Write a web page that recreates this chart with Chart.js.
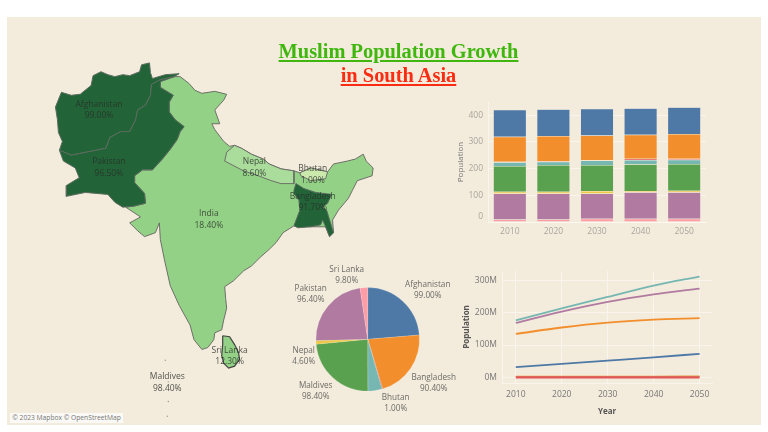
<!DOCTYPE html>
<html>
<head>
<meta charset="utf-8">
<script src="https://cdn.jsdelivr.net/npm/chart.js@4"></script>
<style>
  html, body { margin: 0; padding: 0; background: #fff; width: 768px; height: 432px; overflow: hidden; }
  #panel { position: absolute; left: 7px; top: 17px; width: 754px; height: 408px; background: #f3ebdb; }
  canvas { position: absolute; filter: blur(0.3px); }
  .title { position: absolute; left: 0; width: 797px; text-align: center; font: bold 20.4px "Liberation Serif", serif; text-decoration: underline; }
  #credit { position: absolute; left: 10px; top: 413px; width: 113px; height: 10px; background: #fbf9f5; color: #777; font: 6.7px "Open Sans", sans-serif; line-height: 10px; text-align: center; white-space: nowrap; }
</style>
</head>
<body>
<div id="panel"></div>
<canvas id="mapChart" style="left:0;top:0"></canvas>
<canvas id="barChart" style="left:450px;top:85px"></canvas>
<canvas id="pieChart" style="left:280px;top:260px"></canvas>
<canvas id="lineChart" style="left:450px;top:255px"></canvas>
<div class="title" style="top:40px;color:#3fb70f">Muslim Population Growth</div>
<div class="title" style="top:64px;color:#fb2c12">in South Asia</div>
<div id="credit">© 2023 Mapbox © OpenStreetMap</div>

<script>
// ---- data ----
const years = [2010, 2020, 2030, 2040, 2050];

// stacked bars, bottom segment first
const barSriLanka    = [9, 9, 12, 12, 12];
const barPakistan    = [98, 98, 95, 99, 99];
const barNepal       = [6, 6, 9, 5, 6];
const barMaldives    = [97, 100, 97, 100, 100];
const barIndia       = [14, 12, 17, 16, 16];
const barBhutan      = [1, 2, 1, 5, 4];
const barBangladesh  = [94, 95, 93, 89, 92];
const barAfghanistan = [101, 100, 100, 100, 100];
const barTicks = [0, 100, 200, 300, 400];

// population lines, millions
const lineAfghanistan = [32, 42, 52, 62, 73];
const lineBangladesh  = [134, 154, 169, 178, 183];
const lineIndia       = [176, 213, 248, 283, 311];
const linePakistan    = [168, 203, 233, 256, 274];
const lineSmall       = [3, 3, 3, 3, 4];
const lineBhutan      = [0.5, 0.5, 0.5, 0.5, 0.5];
const lineTicks = [0, 100, 200, 300];

// pie, share of each country
const pieNames  = ['Afghanistan', 'Bangladesh', 'Bhutan', 'India', 'Maldives', 'Nepal', 'Pakistan', 'Sri Lanka'];
const pieValues = [99, 90.4, 1, 18.4, 98.4, 4.6, 96.4, 9.8];
const pieLabels = ['99.00%', '90.40%', '1.00%', '', '98.40%', '4.60%', '96.40%', '9.80%'];

// map outlines, in map units (the map scale runs 0-768 across, 0-432 down)
const outlineAfghanistan = [[56,149],[59,140],[55,131],[54,118],[52,105],[58,90],[68,93],[77,92],[88,83],[90,73],[98,69],[105,72],[112,74],[120,72],[127,73],[137,69],[139,62],[147,60],[148,70],[150,76],[163,72],[177,71],[172,74],[158,77],[149,82],[148,93],[143,103],[135,108],[133,118],[127,130],[118,130],[107,136],[103,147],[83,151],[68,154],[56,149]];
const outlinePakistan = [[56,149],[60,160],[72,167],[76,177],[63,185],[63,196],[82,192],[105,194],[112,202],[120,207],[131,206],[143,203],[142,193],[132,182],[132,175],[140,169],[150,169],[160,158],[168,148],[175,138],[178,130],[182,125],[173,118],[167,110],[167,100],[171,93],[158,85],[158,79],[172,74],[158,77],[149,82],[148,93],[143,103],[135,108],[133,118],[127,130],[118,130],[107,136],[103,147],[83,151],[68,154],[56,149]];
const outlineIndia = [[158,79],[172,74],[178,74],[187,81],[193,88],[200,91],[213,89],[225,92],[222,98],[213,108],[218,122],[210,122],[213,128],[222,140],[228,145],[233,144],[240,147],[250,153],[262,158],[268,163],[280,168],[293,170],[299,172],[310,167],[327,171],[333,163],[347,160],[355,158],[363,153],[366,160],[373,167],[372,175],[357,180],[352,190],[348,198],[338,210],[332,220],[333,233],[329,237],[325,227],[310,227],[293,226],[282,233],[275,243],[268,250],[259,258],[250,267],[242,272],[232,282],[223,288],[224,300],[225,310],[222,322],[220,332],[213,335],[212,342],[206,350],[200,352],[192,342],[188,327],[183,318],[177,307],[168,287],[162,260],[158,240],[157,223],[153,233],[142,237],[135,231],[127,223],[138,217],[123,207],[131,206],[143,203],[142,193],[132,182],[132,175],[140,169],[150,169],[160,158],[168,148],[175,138],[178,130],[182,125],[173,118],[167,110],[167,100],[171,93],[158,85],[158,79]];
const outlineNepal = [[223,160],[225,151],[233,144],[240,147],[250,153],[262,158],[268,163],[280,168],[293,170],[293,183],[280,183],[270,180],[257,175],[242,170],[223,160]];
const outlineBhutan = [[299,172],[310,167],[327,171],[325,178],[310,180],[300,175],[299,172]];
const outlineBangladesh = [[293,190],[295,183],[303,188],[315,192],[331,194],[327,203],[322,207],[326,210],[329,220],[333,233],[329,237],[325,227],[322,220],[320,225],[310,227],[297,228],[293,226],[299,210],[298,200],[293,193],[293,190]];
const outlineSriLanka = [[221,338],[228,339],[233,347],[237,355],[238,362],[233,369],[227,371],[222,366],[220,358],[221,347],[221,338]];
const dotsMaldives = [[163,363],[166,385],[166,405],[165,420]];

const mapLabels = [
  ['Afghanistan', '99.00%', 96, 102], ['Pakistan', '96.50%', 106, 161], ['India', '18.40%', 207, 214],
  ['Nepal', '8.60%', 253, 161], ['Bhutan', '1.00%', 312, 168], ['Bangladesh', '91.70%', 312, 196],
  ['Sri Lanka', '12.30%', 228, 353], ['Maldives', '98.40%', 165, 380]
];

// tableau palette used by all three charts
const colors = { afg: '#4e79a7', ban: '#f28e2b', bhu: '#e15759', ind: '#76b7b2', mal: '#59a14f', nep: '#edc948', pak: '#b07aa1', sri: '#ff9da7' };
const labelFont = '"Open Sans", sans-serif';
Chart.defaults.font.family = labelFont;
Chart.defaults.font.size = 8;
Chart.defaults.animation = false;
Chart.defaults.devicePixelRatio = 1;
Chart.defaults.plugins.legend.display = false;
Chart.defaults.plugins.tooltip.enabled = false;

function size(id, w, h) {
  const c = document.getElementById(id);
  c.width = w; c.height = h;
  return c;
}

// two-line caption centred on a point
function caption(ctx, name, value, x, y, color, px) {
  ctx.save();
  ctx.font = px + 'px ' + labelFont;
  ctx.fillStyle = color;
  ctx.textAlign = 'center';
  ctx.textBaseline = 'middle';
  ctx.fillText(name, x, y);
  ctx.fillText(value, x, y + 11.5);
  ctx.restore();
}

// ---- map ----
function region(points, fill, border, width) {
  return {
    data: points.map(p => ({ x: p[0], y: p[1] })),
    showLine: true, borderColor: border, borderWidth: width, areaFill: fill,
    pointRadius: 0, tension: 0, clip: false
  };
}

const fillRegions = {
  id: 'fillRegions',
  beforeDatasetDraw(chart, args) {
    const ds = chart.data.datasets[args.index];
    if (!ds.areaFill) return;
    const pts = args.meta.data;
    const ctx = chart.ctx;
    ctx.save();
    ctx.beginPath();
    pts.forEach((p, i) => i ? ctx.lineTo(p.x, p.y) : ctx.moveTo(p.x, p.y));
    ctx.closePath();
    ctx.fillStyle = ds.areaFill;
    ctx.fill();
    ctx.restore();
  },
  afterDraw(chart) {
    mapLabels.forEach(l => caption(chart.ctx, l[0], l[1],
      chart.scales.x.getPixelForValue(l[2]), chart.scales.y.getPixelForValue(l[3]), 'rgba(40,45,40,0.8)', 8.5));
  }
};

// chart.js paints the first dataset last, so neighbours drawn on top come first here
new Chart(size('mapChart', 768, 432), {
  type: 'scatter',
  data: {
    datasets: [
      { data: dotsMaldives.map(p => ({ x: p[0], y: p[1] })), pointRadius: 0.7, pointBackgroundColor: '#999', pointBorderWidth: 0 },
      region(outlineSriLanka, '#93d286', '#444', 1.2),
      region(outlineBangladesh, '#226438', '#5a6b5e', 1),
      region(outlinePakistan, '#226438', '#5a6b5e', 1),
      region(outlineAfghanistan, '#226438', '#5a6b5e', 1),
      region(outlineBhutan, '#cbe8ad', '#6c6f68', 1),
      region(outlineNepal, '#aadd9b', '#6c6f68', 1),
      region(outlineIndia, '#93d286', '#6c6f68', 1)
    ]
  },
  options: {
    responsive: false,
    layout: { padding: 0 },
    scales: {
      x: { type: 'linear', min: 0, max: 768, display: false },
      y: { type: 'linear', min: 0, max: 432, reverse: true, display: false }
    }
  },
  plugins: [fillRegions]
});

// ---- stacked bars ----
function barSet(values, color) {
  return { data: values, backgroundColor: color, borderColor: 'rgba(255,255,255,0.2)', borderWidth: 0.5, barPercentage: 0.76, categoryPercentage: 1, stack: 'all' };
}

new Chart(size('barChart', 270, 160), {
  type: 'bar',
  data: {
    labels: years,
    datasets: [
      barSet(barSriLanka, colors.sri), barSet(barPakistan, colors.pak), barSet(barNepal, colors.nep),
      barSet(barMaldives, colors.mal), barSet(barIndia, colors.ind), barSet(barBhutan, colors.bhu),
      barSet(barBangladesh, colors.ban), barSet(barAfghanistan, colors.afg)
    ]
  },
  options: {
    responsive: false,
    layout: { padding: { top: 17, right: 14, left: 0, bottom: 0 } },
    scales: {
      x: {
        stacked: true,
        afterFit: s => { s.height = 23; },
        grid: { display: false, drawTicks: false },
        border: { color: '#fbf8f0' },
        ticks: { color: '#a9a69f', maxRotation: 0, padding: 4, font: { size: 8.5 } }
      },
      y: {
        stacked: true, min: 0, max: 449,
        afterFit: s => { s.width = 38; },
        afterBuildTicks: s => { s.ticks = barTicks.map(v => ({ value: v })); },
        grid: { color: '#f9f5ec', drawTicks: false },
        border: { color: '#f9f5ec' },
        title: { display: true, text: 'Population', color: '#777', font: { size: 8 }, padding: { top: 6, bottom: 0 } },
        // the 0 label sits above the axis in the reference, a blank second line lifts it
        ticks: { color: '#a9a69f', padding: 5, font: { size: 8.5 }, callback: v => v === 0 ? ['0', ''] : v }
      }
    }
  }
});

// ---- pie ----
const pieLabelOffsets = [[60, -55], [66, 38], [28, 58], null, [-52, 46], [-64, 11], [-57, -51], [-21, -70]];

const pieCaptions = {
  id: 'pieCaptions',
  afterDraw(chart) {
    const arc = chart.getDatasetMeta(0).data[0];
    pieNames.forEach((name, i) => {
      if (pieLabelOffsets[i]) caption(chart.ctx, name, pieLabels[i], arc.x + pieLabelOffsets[i][0], arc.y + pieLabelOffsets[i][1], '#6d6c68', 8.2);
    });
  }
};

new Chart(size('pieChart', 180, 160), {
  type: 'pie',
  data: {
    labels: pieNames,
    datasets: [{
      data: pieValues,
      backgroundColor: [colors.afg, colors.ban, colors.bhu, colors.ind, colors.mal, colors.nep, colors.pak, colors.sri],
      borderColor: 'rgba(255,255,255,0.3)', borderWidth: 0.5
    }]
  },
  options: {
    responsive: false,
    layout: { padding: { left: 35.7, right: 40.3, top: 27.3, bottom: 28.7 } }
  },
  plugins: [pieCaptions]
});

// ---- population lines ----
function lineSet(values, color, width) {
  return { data: values.map((v, i) => ({ x: years[i], y: v })), showLine: true, borderColor: color, borderWidth: width, pointRadius: 0, cubicInterpolationMode: 'monotone' };
}

new Chart(size('lineChart', 270, 165), {
  type: 'scatter',
  data: {
    datasets: [
      lineSet(lineBhutan, colors.bhu, 2.2),
      lineSet(lineSmall, '#e39a4a', 1.6),
      lineSet(lineAfghanistan, colors.afg, 1.8),
      lineSet(lineBangladesh, colors.ban, 1.8),
      lineSet(lineIndia, colors.ind, 1.8),
      lineSet(linePakistan, colors.pak, 1.8)
    ]
  },
  options: {
    responsive: false,
    layout: { padding: { top: 16, right: 8, left: 0, bottom: 0 } },
    scales: {
      x: {
        type: 'linear', min: 2007, max: 2052.7,
        afterFit: s => { s.height = 37; },
        afterBuildTicks: s => { s.ticks = years.map(v => ({ value: v })); },
        grid: { color: '#f9f5ec', drawTicks: false },
        border: { color: '#f9f5ec' },
        title: { display: true, text: 'Year', color: '#555', font: { size: 8, weight: 'bold' }, padding: { top: 1, bottom: 3 } },
        ticks: { color: '#777', padding: 6, maxRotation: 0, font: { size: 8.5 }, callback: v => String(v) }
      },
      y: {
        type: 'linear', min: -17, max: 328,
        afterFit: s => { s.width = 52; },
        afterBuildTicks: s => { s.ticks = lineTicks.map(v => ({ value: v })); },
        grid: { color: '#f9f5ec', drawTicks: false },
        border: { color: '#f9f5ec' },
        title: { display: true, text: 'Population', color: '#555', font: { size: 8, weight: 'bold' }, padding: { top: 12, bottom: 0 } },
        ticks: { color: '#777', padding: 5, font: { size: 8.5 }, callback: v => v + 'M' }
      }
    }
  }
});
</script>
</body>
</html>
